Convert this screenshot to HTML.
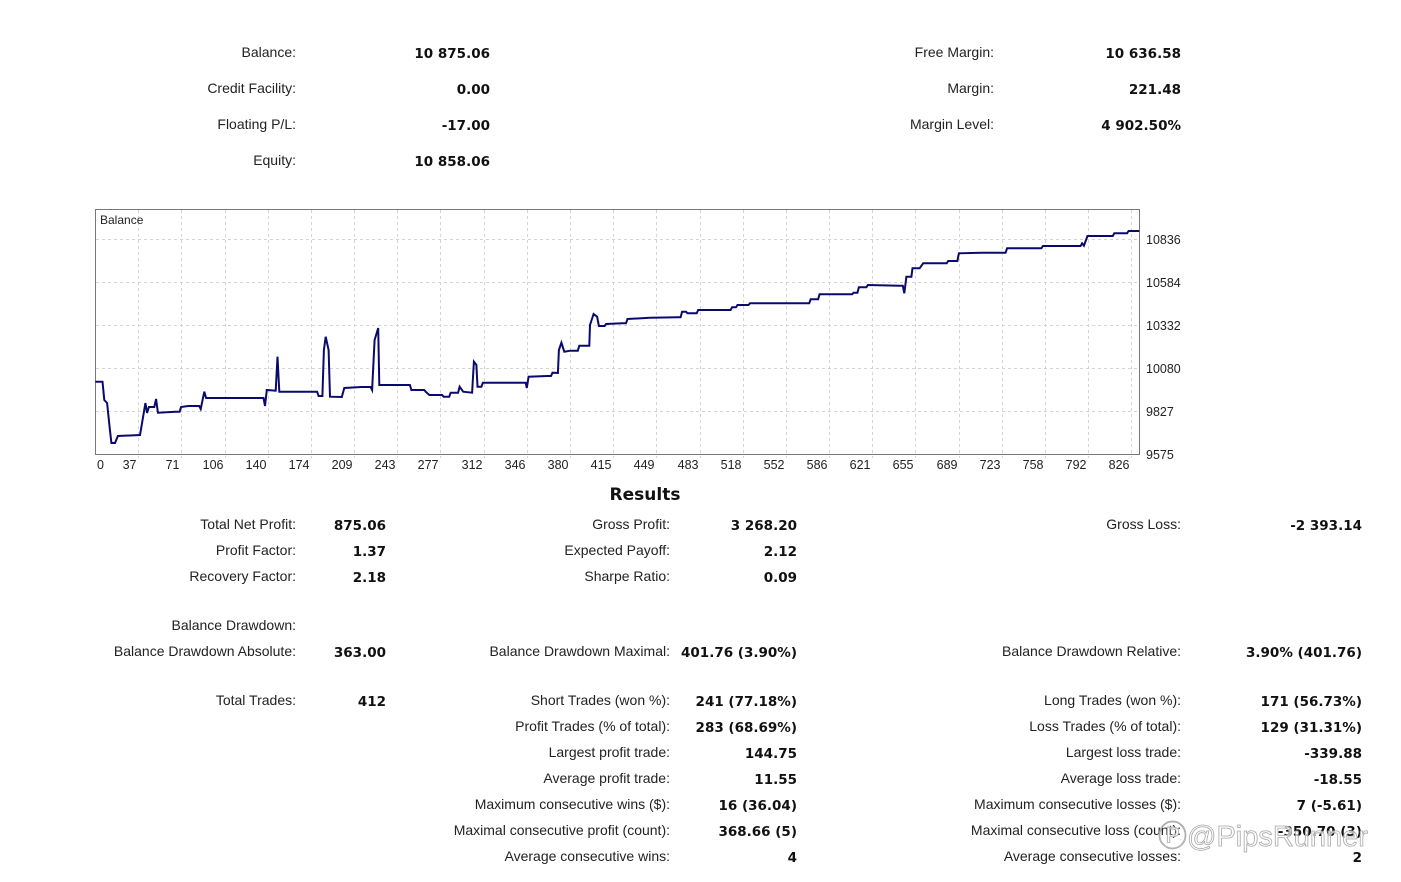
<!DOCTYPE html>
<html><head><meta charset="utf-8"><style>
html,body{margin:0;padding:0;background:#fff;}
body{width:1401px;height:882px;position:relative;overflow:hidden;font-family:"Liberation Sans","DejaVu Sans",sans-serif;color:#222;}
.l,.v{position:absolute;white-space:nowrap;font-size:14px;line-height:16px;text-align:right;}
.v{font-family:"DejaVu Sans","Liberation Sans",sans-serif;font-weight:bold;font-size:13.5px;color:#111;margin-top:2px;}
</style></head><body>
<div class="l" style="right:1105px;top:44px">Balance:</div><div class="v" style="right:911px;top:44px">10 875.06</div>
<div class="l" style="right:1105px;top:80px">Credit Facility:</div><div class="v" style="right:911px;top:80px">0.00</div>
<div class="l" style="right:1105px;top:116px">Floating P/L:</div><div class="v" style="right:911px;top:116px">-17.00</div>
<div class="l" style="right:1105px;top:152px">Equity:</div><div class="v" style="right:911px;top:152px">10 858.06</div>
<div class="l" style="right:407px;top:44px">Free Margin:</div><div class="v" style="right:220px;top:44px">10 636.58</div>
<div class="l" style="right:407px;top:80px">Margin:</div><div class="v" style="right:220px;top:80px">221.48</div>
<div class="l" style="right:407px;top:116px">Margin Level:</div><div class="v" style="right:220px;top:116px">4 902.50%</div>

<svg style="position:absolute;left:0;top:0" width="1401" height="882">
<g stroke="#d4d4d4" stroke-width="1" stroke-dasharray="3,3">
<line x1="96" y1="239.5" x2="1139" y2="239.5"/><line x1="96" y1="282.5" x2="1139" y2="282.5"/><line x1="96" y1="325.5" x2="1139" y2="325.5"/><line x1="96" y1="368.5" x2="1139" y2="368.5"/><line x1="96" y1="411.5" x2="1139" y2="411.5"/>
</g>
<g id="vgrid" stroke="#d4d4d4" stroke-dasharray="3,3"></g>
<rect x="95.5" y="209.5" width="1044" height="245" fill="none" stroke="#777"/>
<text x="100" y="224" font-family="Liberation Sans,sans-serif" font-size="12" fill="#222">Balance</text>
<g font-family="Liberation Sans,sans-serif" font-size="12.5" fill="#222">
<text x="1146" y="244">10836</text><text x="1146" y="287">10584</text><text x="1146" y="330">10332</text><text x="1146" y="373">10080</text><text x="1146" y="416">9827</text><text x="1146" y="459">9575</text>
</g>
<g id="xt" font-family="Liberation Sans,sans-serif" font-size="12.5" fill="#222" text-anchor="end"></g>
<polyline id="ln" fill="none" stroke="#0a0a6e" stroke-width="2" points=""/>
</svg>

<div style="position:absolute;left:545px;width:200px;top:485px;text-align:center;font-weight:bold;font-size:17px;font-family:'DejaVu Sans',sans-serif;color:#111">Results</div>

<div class="l" style="right:1105px;top:516px">Total Net Profit:</div><div class="v" style="right:1015px;top:516px">875.06</div>
<div class="l" style="right:1105px;top:542px">Profit Factor:</div><div class="v" style="right:1015px;top:542px">1.37</div>
<div class="l" style="right:1105px;top:568px">Recovery Factor:</div><div class="v" style="right:1015px;top:568px">2.18</div>
<div class="l" style="right:1105px;top:617px">Balance Drawdown:</div>
<div class="l" style="right:1105px;top:643px">Balance Drawdown Absolute:</div><div class="v" style="right:1015px;top:643px">363.00</div>
<div class="l" style="right:1105px;top:692px">Total Trades:</div><div class="v" style="right:1015px;top:692px">412</div>

<div class="l" style="right:731px;top:516px">Gross Profit:</div><div class="v" style="right:604px;top:516px">3 268.20</div>
<div class="l" style="right:731px;top:542px">Expected Payoff:</div><div class="v" style="right:604px;top:542px">2.12</div>
<div class="l" style="right:731px;top:568px">Sharpe Ratio:</div><div class="v" style="right:604px;top:568px">0.09</div>
<div class="l" style="right:731px;top:643px">Balance Drawdown Maximal:</div><div class="v" style="right:604px;top:643px">401.76 (3.90%)</div>
<div class="l" style="right:731px;top:692px">Short Trades (won %):</div><div class="v" style="right:604px;top:692px">241 (77.18%)</div>
<div class="l" style="right:731px;top:718px">Profit Trades (% of total):</div><div class="v" style="right:604px;top:718px">283 (68.69%)</div>
<div class="l" style="right:731px;top:744px">Largest profit trade:</div><div class="v" style="right:604px;top:744px">144.75</div>
<div class="l" style="right:731px;top:770px">Average profit trade:</div><div class="v" style="right:604px;top:770px">11.55</div>
<div class="l" style="right:731px;top:796px">Maximum consecutive wins ($):</div><div class="v" style="right:604px;top:796px">16 (36.04)</div>
<div class="l" style="right:731px;top:822px">Maximal consecutive profit (count):</div><div class="v" style="right:604px;top:822px">368.66 (5)</div>
<div class="l" style="right:731px;top:848px">Average consecutive wins:</div><div class="v" style="right:604px;top:848px">4</div>

<div class="l" style="right:220px;top:516px">Gross Loss:</div><div class="v" style="right:39px;top:516px">-2 393.14</div>
<div class="l" style="right:220px;top:643px">Balance Drawdown Relative:</div><div class="v" style="right:39px;top:643px">3.90% (401.76)</div>
<div class="l" style="right:220px;top:692px">Long Trades (won %):</div><div class="v" style="right:39px;top:692px">171 (56.73%)</div>
<div class="l" style="right:220px;top:718px">Loss Trades (% of total):</div><div class="v" style="right:39px;top:718px">129 (31.31%)</div>
<div class="l" style="right:220px;top:744px">Largest loss trade:</div><div class="v" style="right:39px;top:744px">-339.88</div>
<div class="l" style="right:220px;top:770px">Average loss trade:</div><div class="v" style="right:39px;top:770px">-18.55</div>
<div class="l" style="right:220px;top:796px">Maximum consecutive losses ($):</div><div class="v" style="right:39px;top:796px">7 (-5.61)</div>
<div class="l" style="right:220px;top:822px">Maximal consecutive loss (count):</div><div class="v" style="right:39px;top:822px">-350.70 (3)</div>
<div class="l" style="right:220px;top:848px">Average consecutive losses:</div><div class="v" style="right:39px;top:848px">2</div>

<div style="position:absolute;left:1158px;top:813px;font-size:29px;font-family:'Liberation Sans',sans-serif;color:rgba(255,255,255,0.7);-webkit-text-stroke:0.8px #a8a8a8;white-space:nowrap">&#x24C5;@PipsRunner</div>

<script>
(function(){
var ns="http://www.w3.org/2000/svg";
var g=document.getElementById("vgrid"),t=document.getElementById("xt");
var labs=["37","71","106","140","174","209","243","277","312","346","380","415","449","483","518","552","586","621","655","689","723","758","792","826"];
function txt(x,s){var e=document.createElementNS(ns,"text");e.setAttribute("x",x);e.setAttribute("y",469);e.textContent=s;t.appendChild(e);}
txt(104,"0");
for(var k=0;k<24;k++){var x=Math.round(138.2+43.18*k)+0.5;
var l=document.createElementNS(ns,"line");l.setAttribute("x1",x);l.setAttribute("x2",x);l.setAttribute("y1",210);l.setAttribute("y2",458);g.appendChild(l);
txt(x-2,labs[k]);}
var p=[95.4,381.7,102.5,381.7,104.3,400,107.1,403,109.6,427,111.4,443,115,443,117.9,436,140,435,142.9,418,145.4,403,147.1,413,148.9,407,154.3,407,156.1,399,157.9,412.7,175.7,411.7,181.1,407,188.2,406,200.7,409,204.3,391.7,206.1,398,265,406,266.8,390,275.7,390.7,277.5,356.7,279.3,391.7,318.6,396,323.9,350,325.7,336.7,328.6,350,330,396.7,341.8,397,344.3,388,361.4,387,372.1,390,374.6,340,378.2,328,379.3,385,411.4,390,425.7,391.7,429.3,395,443.6,396.7,450.7,392.7,459.6,386.7,463.2,391.7,472.1,392.7,473.9,361.7,476.4,365,477.5,386.7,482.9,382.7,525.7,382.7,526.8,388,528.6,376.7,547.1,376,552.5,372.7,557.9,373,558.9,350,561.4,342.7,564.3,351.7,570.4,350.7,579.3,345.7,589.3,345.7,590,325,593.6,314,597.1,316.7,598.9,326,606.1,324,622.1,323.3,627.5,319,650,317.7,677.9,317.3,682.1,311.7,687.5,313.3,698.2,310,732.1,307.3,737.5,305,750,303.3,810.7,299.3,819.6,294.3,853.6,292.7,858.9,287.3,867.9,285,900,285.7,904.3,293.3,906.4,276.7,911.4,276.7,912.5,268.3,919.6,268.3,923.2,263.3,948.2,261,958.9,253.3,982.1,252.7,1007.1,248.3,1042.9,246,1082.1,243.3,1083.9,245.7,1087.5,236,1114.3,233.3,1128.6,231,1139.3,231];
var s=[p[0]+","+p[1]];
for(var i=2;i<p.length;i+=2){var dx=p[i]-p[i-2],dy=p[i+1]-p[i-1];
if(dx>4&&Math.abs(dy)>1.5){s.push((p[i]-1.5)+","+p[i-1]);}
s.push(p[i]+","+p[i+1]);}
document.getElementById("ln").setAttribute("points",s.join(" "));
})();
</script>
</body></html>
